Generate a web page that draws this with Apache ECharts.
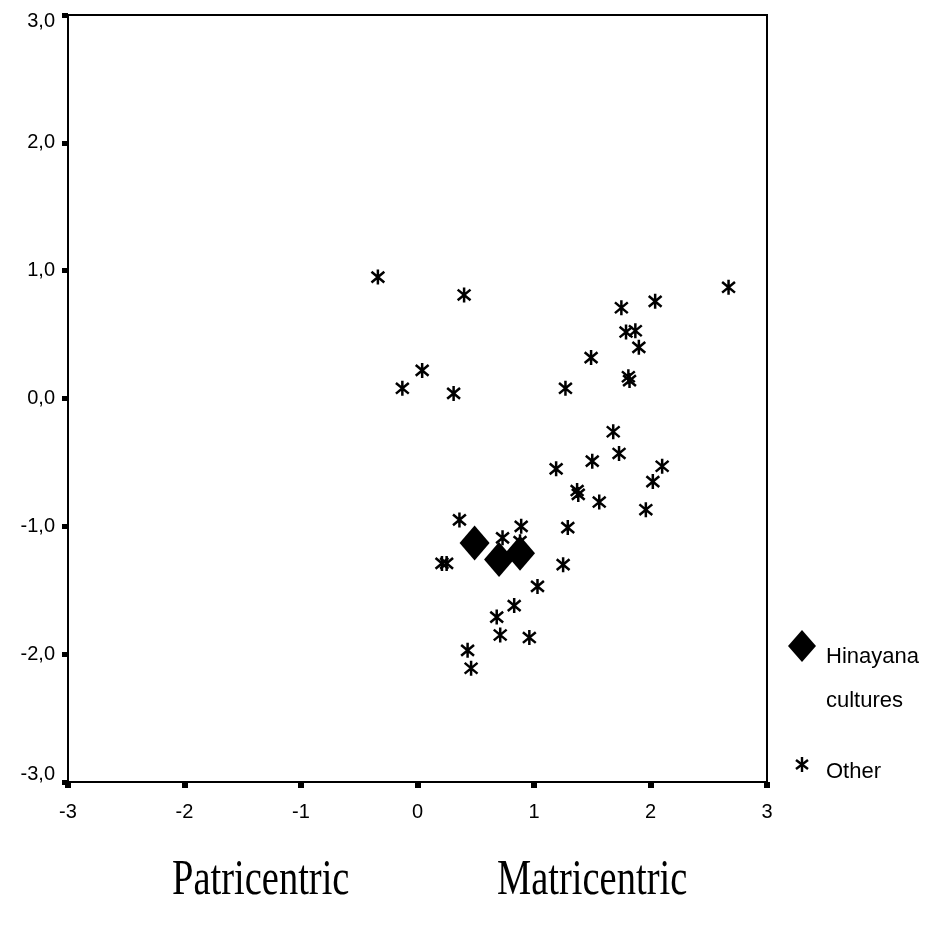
<!DOCTYPE html>
<html>
<head>
<meta charset="utf-8">
<script src="https://cdn.jsdelivr.net/npm/echarts@6/dist/echarts.min.js"></script>
<style>html,body{margin:0;padding:0;background:#fff}#c{width:933px;height:930px}</style>
</head>
<body>
<div id="c"></div>
<script>
const xTicks = [-3, -2, -1, 0, 1, 2, 3];
const yTicks = [-3, -2, -1, 0, 1, 2, 3];
const hinayanaX = [0.49, 0.70, 0.88];
const hinayanaY = [-1.13, -1.26, -1.21];
const otherX = [-0.34, 0.40, -0.13, 0.04, 0.31, 2.67, 2.04, 1.75, 1.79, 1.87, 1.90, 1.49, 1.81, 1.82, 1.27,
  1.68, 1.73, 1.50, 1.19, 2.10, 2.02, 1.37, 1.38, 1.56, 1.96, 0.36, 0.89, 1.29, 0.73, 0.88,
  0.21, 0.25, 1.25, 1.03, 0.83, 0.68, 0.71, 0.96, 0.43, 0.46];
const otherY = [0.95, 0.81, 0.08, 0.22, 0.04, 0.87, 0.76, 0.71, 0.52, 0.53, 0.40, 0.32, 0.17, 0.14, 0.08,
  -0.26, -0.43, -0.49, -0.55, -0.53, -0.65, -0.72, -0.75, -0.81, -0.87, -0.95, -1.00, -1.01, -1.09, -1.12,
  -1.29, -1.29, -1.30, -1.47, -1.62, -1.71, -1.85, -1.87, -1.97, -2.11];
const seriesNames = ['Hinayana cultures', 'Other'];
const legendLines = ['Hinayana', 'cultures', 'Other'];
const axisWords = ['Patricentric', 'Matricentric'];

const star = 'path://M0,-7 L0,7 M-6,-5 L6,5 M-6,5 L6,-5';
const sans = '"Liberation Sans", Arial, sans-serif';
const serif = '"Liberation Serif", "Times New Roman", serif';
const lineStyle = {stroke: '#000', lineWidth: 2.4};

const chart = echarts.init(document.getElementById('c'), null, {renderer: 'canvas'});
chart.setOption({
  animation: false,
  backgroundColor: '#fff',
  grid: {left: 68, right: 166, top: 15, bottom: 148, show: true, borderColor: '#000', borderWidth: 2},
  xAxis: {
    type: 'value', min: xTicks[0], max: xTicks[xTicks.length - 1], interval: 1,
    splitLine: {show: false},
    axisLine: {show: true, onZero: false, lineStyle: {color: '#000', width: 2}},
    axisTick: {show: true, length: 6, lineStyle: {color: '#000', width: 6}},
    axisLabel: {color: '#000', fontFamily: sans, fontSize: 20, margin: 20}
  },
  yAxis: {
    type: 'value', min: yTicks[0], max: yTicks[yTicks.length - 1], interval: 1,
    splitLine: {show: false},
    axisLine: {show: true, onZero: false, lineStyle: {color: '#000', width: 2}},
    axisTick: {show: true, length: 6, lineStyle: {color: '#000', width: 5}},
    axisLabel: {color: '#000', fontFamily: sans, fontSize: 20, margin: 13,
      formatter: v => {
        const s = v.toFixed(1).replace('.', ',');
        if (v === yTicks[0]) return '{lo|' + s + '}';
        if (v === yTicks[yTicks.length - 1]) return '{hi|' + s + '}';
        return s;
      },
      rich: {
        lo: {fontFamily: sans, fontSize: 20, color: '#000', padding: [0, 0, 16, 0]},
        hi: {fontFamily: sans, fontSize: 20, color: '#000', padding: [12, 0, 0, 0]}
      }
    }
  },
  series: [
    {
      name: seriesNames[0], type: 'scatter', symbol: 'diamond', symbolSize: [30, 35],
      itemStyle: {color: '#000', opacity: 1},
      data: hinayanaX.map((x, i) => [x, hinayanaY[i]]), z: 2
    },
    {
      name: seriesNames[1], type: 'scatter', symbol: star, symbolSize: 15, symbolKeepAspect: true,
      itemStyle: {color: 'rgba(0,0,0,0)', borderColor: '#000', borderWidth: 2.5, opacity: 1},
      data: otherX.map((x, i) => [x, otherY[i]]), z: 3
    }
  ],
  graphic: [
    {type: 'polygon', shape: {points: [[802, 630], [816, 646], [802, 662], [788, 646]]}, style: {fill: '#000'}},
    {type: 'text', x: 826, y: 646, style: {text: legendLines[0], font: '22px ' + sans, fill: '#000'}},
    {type: 'text', x: 826, y: 690, style: {text: legendLines[1], font: '22px ' + sans, fill: '#000'}},
    {type: 'line', shape: {x1: 802, y1: 757, x2: 802, y2: 772}, style: lineStyle},
    {type: 'line', shape: {x1: 796, y1: 760, x2: 808, y2: 769}, style: lineStyle},
    {type: 'line', shape: {x1: 796, y1: 769, x2: 808, y2: 760}, style: lineStyle},
    {type: 'text', x: 826, y: 761, style: {text: legendLines[2], font: '22px ' + sans, fill: '#000'}},
    {type: 'text', x: 172, y: 856, scaleX: 0.77, style: {text: axisWords[0], font: '50px ' + serif, fill: '#000'}},
    {type: 'text', x: 497, y: 856, scaleX: 0.77, style: {text: axisWords[1], font: '50px ' + serif, fill: '#000'}}
  ]
});
</script>
</body>
</html>
